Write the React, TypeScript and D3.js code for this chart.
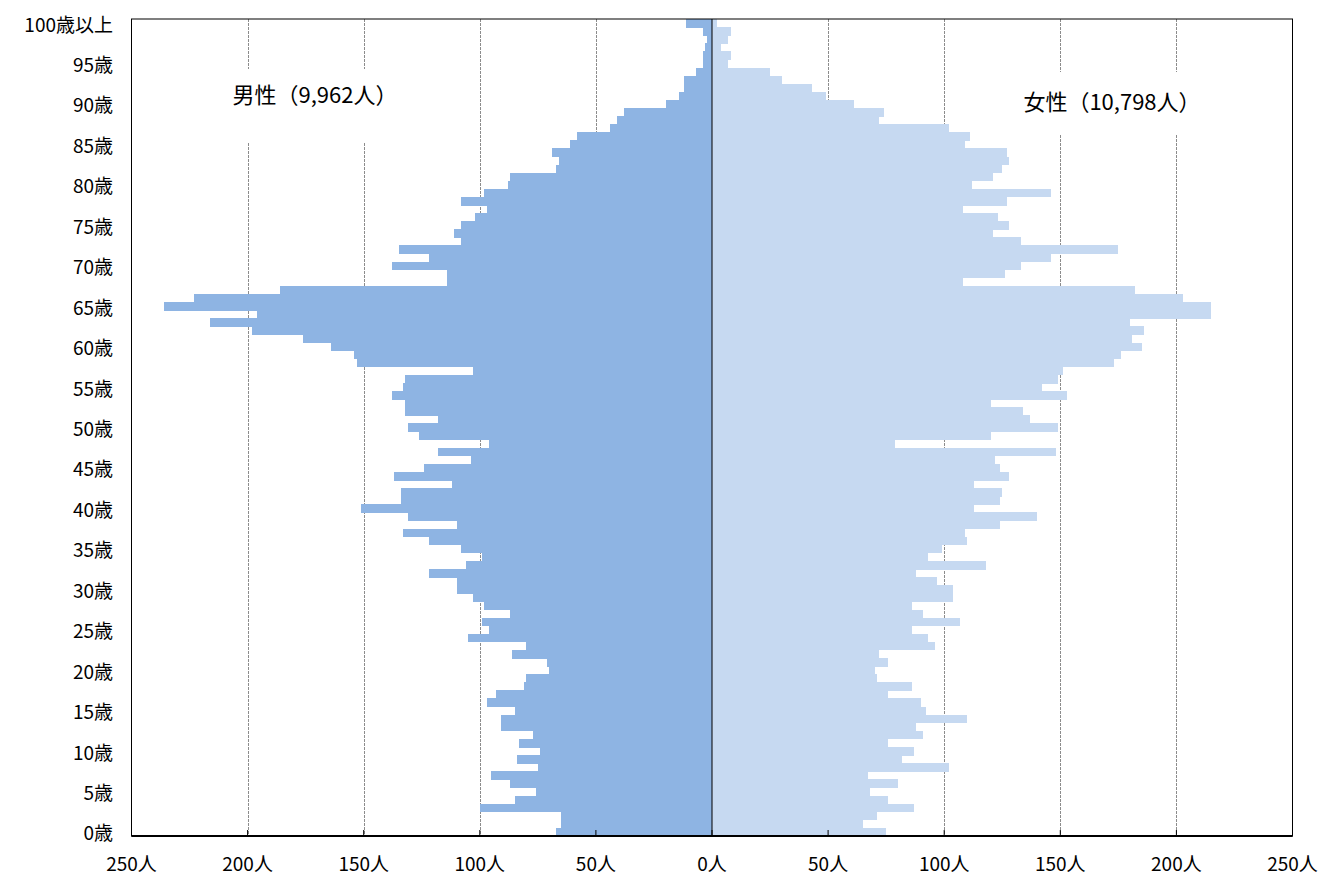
import { range, scaleBand, scaleLinear } from "d3";

// 年齢別人口（0歳〜100歳以上）
const ages = range(0, 101);

const male = [
  67, 65, 65, 100, 85, 76, 87, 95, 75, 84,
  74, 83, 77, 91, 91, 85, 97, 93, 81, 80,
  70, 71, 86, 80, 105, 96, 99, 87, 98, 103,
  110, 110, 122, 106, 99, 108, 122, 133, 110, 131,
  151, 134, 134, 112, 137, 124, 104, 118, 96, 126,
  131, 118, 132, 132, 138, 133, 132, 103, 153, 154,
  164, 176, 198, 216, 196, 236, 223, 186, 114, 114,
  138, 122, 135, 108, 111, 108, 102, 97, 108, 98,
  88, 87, 67, 66, 69, 61, 58, 44, 41, 38,
  20, 14, 12, 12, 7, 4, 4, 3, 2, 4,
  11,
];

const female = [
  75, 65, 71, 87, 76, 68, 80, 67, 102, 82,
  87, 76, 91, 88, 110, 92, 90, 76, 86, 71,
  70, 76, 72, 96, 93, 86, 107, 91, 86, 104,
  104, 97, 88, 118, 93, 99, 110, 109, 124, 140,
  113, 124, 125, 113, 128, 124, 122, 148, 79, 120,
  149, 137, 134, 120, 153, 142, 149, 151, 173, 176,
  185, 181, 186, 180, 215, 215, 203, 182, 108, 126,
  133, 146, 175, 133, 121, 128, 123, 108, 127, 146,
  112, 121, 125, 128, 127, 109, 111, 102, 72, 74,
  61, 49, 43, 30, 25, 7, 8, 4, 7, 8,
  2,
];

const ageTicks = range(0, 101, 5);
const ageLabels = ageTicks.map((a) => (a === 100 ? "100歳以上" : `${a}歳`));

const xTicks = [-250, -200, -150, -100, -50, 0, 50, 100, 150, 200, 250];
const xTickLabels = xTicks.map((v) => `${Math.abs(v)}人`);

const maleTitle = "男性（9,962人）";
const femaleTitle = "女性（10,798人）";

const font = "'Noto Sans CJK JP', sans-serif";

export default function App() {
  const left = 131.5;
  const right = 1292.5;
  const top = 19;
  const bottom = 836;

  const x = scaleLinear().domain([-250, 250]).range([left, right]);
  const y = scaleBand<number>()
    .domain([...ages].reverse())
    .range([top, bottom])
    .paddingInner(0)
    .paddingOuter(0);

  const grid = xTicks.filter((v) => v !== 0 && Math.abs(v) !== 250);

  return (
    <svg
      width={1322}
      height={874}
      style={{ position: "absolute", left: 0, top: 0, background: "#fff" }}
      fontFamily={font}
    >
      {/* grid lines */}
      {grid.map((v) => (
        <line
          key={`g${v}`}
          x1={Math.round(x(v)) + 0.5}
          x2={Math.round(x(v)) + 0.5}
          y1={top}
          y2={bottom}
          stroke="#8c8c8c"
          strokeWidth={1}
          strokeDasharray="3,1"
        />
      ))}

      {/* white boxes behind the titles */}
      <rect x={205} y={69} width={215} height={74} fill="#fff" />
      <rect x={1005} y={72} width={230} height={63} fill="#fff" />

      {/* bars */}
      <g shapeRendering="crispEdges">
        {ages.map((a, i) => (
          <rect
            key={`m${a}`}
            x={x(-male[i])}
            y={y(a)}
            width={x(0) - x(-male[i])}
            height={y.bandwidth() + 0.5}
            fill="#8eb4e3"
          />
        ))}
        {ages.map((a, i) => (
          <rect
            key={`f${a}`}
            x={x(0)}
            y={y(a)}
            width={x(female[i]) - x(0)}
            height={y.bandwidth() + 0.5}
            fill="#c6d9f1"
          />
        ))}
      </g>

      {/* titles */}
      <text x={315} y={93} fontSize={22} textAnchor="middle" dominantBaseline="central" fill="#000">
        {maleTitle}
      </text>
      <text x={1112} y={100} fontSize={22} textAnchor="middle" dominantBaseline="central" fill="#000">
        {femaleTitle}
      </text>

      {/* center axis */}
      <line x1={x(0)} x2={x(0)} y1={top} y2={bottom} stroke="#000" strokeWidth={1} />

      {/* frame */}
      <rect x={left} y={top} width={right - left} height={bottom - top} fill="none" stroke="#000" strokeWidth={1} />
      <line x1={left} x2={right} y1={bottom} y2={bottom} stroke="#000" strokeWidth={2} />

      {/* ticks */}
      {xTicks.map((v) => (
        <line key={`t${v}`} x1={x(v)} x2={x(v)} y1={bottom} y2={bottom - 6} stroke="#000" strokeWidth={1} />
      ))}

      {/* x labels */}
      {xTicks.map((v, i) => (
        <text key={`xl${v}`} x={x(v)} y={862} fontSize={19} textAnchor="middle" dominantBaseline="central" fill="#000">
          {xTickLabels[i]}
        </text>
      ))}

      {/* age labels */}
      {ageTicks.map((a, i) => (
        <text
          key={`yl${a}`}
          x={113}
          y={(y(a) ?? 0) + y.bandwidth() / 2}
          fontSize={19}
          textAnchor="end"
          dominantBaseline="central"
          fill="#000"
        >
          {ageLabels[i]}
        </text>
      ))}
    </svg>
  );
}
